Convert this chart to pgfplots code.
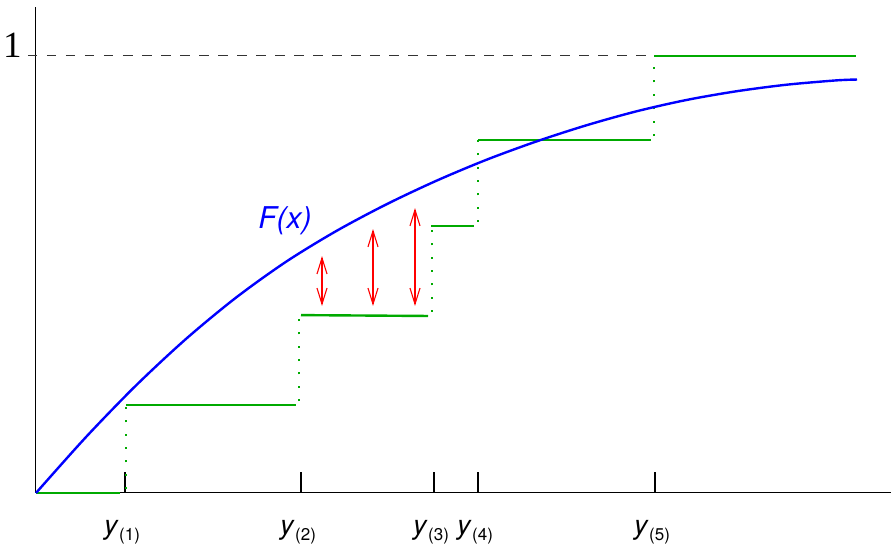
\documentclass[border=0pt]{standalone}
\usepackage{pgfplots}
\pgfplotsset{compat=1.18}
\usetikzlibrary{arrows.meta}
\usepackage{fontspec}
\setmainfont{TeX Gyre Heros}
\newfontfamily\seriffont{Liberation Serif}
\definecolor{stepgreen}{RGB}{0,170,0}
\newcommand{\ylab}[1]{{\itshape y}\hspace{0.8pt}\raisebox{-2.8pt}{\fontsize{8.5}{9}\selectfont(#1)}}
\begin{document}
\begin{tikzpicture}
\begin{axis}[
  scale only axis, width=427.5pt, height=243pt,
  xmin=0, xmax=855, ymin=0, ymax=1.112,
  axis x line*=bottom, axis y line*=left,
  axis line style={-, line width=0.5pt, black},
  clip=false,
  xtick={89,265,398,442,619},
  xticklabels={{\ylab{1}},{\ylab{2}},{\ylab{3}},{\ylab{4}},{\ylab{5}}},
  tick align=inside,
  major tick length=10.5pt,
  xtick style={line width=1pt, black},
  ytick={1}, yticklabels={1},
  ytick style={draw=none},
  xticklabel style={anchor=base, yshift=-21pt, xshift=-1.5pt, font=\fontsize{13.5}{15}\selectfont},
  yticklabel style={anchor=base east, inner sep=0pt, xshift=-7pt, yshift=-1pt, font=\seriffont\fontsize{18.5}{20}\selectfont},
]
% dashed reference line at 1
\addplot[black!80, line width=0.5pt, dash pattern=on 4.75pt off 4.75pt] coordinates {(-8,1) (618,1)};
% empirical cdf steps
\addplot[stepgreen, line width=1.2pt] coordinates {(0,0) (84,0)};
\addplot[stepgreen, line width=1.2pt] coordinates {(90,0.201) (260,0.201)};
\addplot[stepgreen, line width=1.2pt] coordinates {(265,0.407) (392,0.405)};
\addplot[stepgreen, line width=1.2pt] coordinates {(395,0.611) (438,0.611)};
\addplot[stepgreen, line width=1.2pt] coordinates {(442,0.808) (615,0.808)};
\addplot[stepgreen, line width=1.2pt] coordinates {(618,1.0) (820,1.0)};
% dotted jumps
\addplot[stepgreen, line width=1pt, dash pattern=on 1pt off 5.67pt, dash phase=4.67pt] coordinates {(90,0) (90,0.201)};
\addplot[stepgreen, line width=1pt, dash pattern=on 1pt off 5.67pt, dash phase=4.67pt] coordinates {(263,0.201) (263,0.407)};
\addplot[stepgreen, line width=1pt, dash pattern=on 1pt off 5.67pt, dash phase=4.67pt] coordinates {(396,0.405) (396,0.611)};
\addplot[stepgreen, line width=1pt, dash pattern=on 1pt off 5.67pt, dash phase=4.67pt] coordinates {(442,0.611) (442,0.808)};
\addplot[stepgreen, line width=1pt, dash pattern=on 1pt off 5.67pt, dash phase=4.67pt] coordinates {(618,0.808) (618,1.0)};
% true cdf
\addplot[blue, line width=1.2pt, smooth] coordinates {
 (0,0) (50,0.128) (100,0.246) (150,0.3525) (200,0.447) (250,0.529) (300,0.599)
 (350,0.660) (400,0.714) (450,0.762) (500,0.804) (550,0.841) (600,0.873)
 (650,0.899) (700,0.919) (750,0.934) (800,0.944) (821,0.946)};
% red arrows
\addplot[red, line width=0.55pt, arrows={Straight Barb[length=8pt,width=5pt]-Straight Barb[length=8pt,width=5pt]}] coordinates {(286,0.542) (286,0.428)};
\addplot[red, line width=0.55pt, arrows={Straight Barb[length=8pt,width=5pt]-Straight Barb[length=8pt,width=5pt]}] coordinates {(337,0.604) (337,0.428)};
\addplot[red, line width=0.55pt, arrows={Straight Barb[length=8pt,width=5pt]-Straight Barb[length=8pt,width=5pt]}] coordinates {(379,0.652) (379,0.428)};
\node[blue, anchor=base, inner sep=0pt, font=\fontsize{15}{17}\selectfont\itshape] at (axis cs:249,0.606) {F(x)};
\coordinate (bl) at (axis cs:-36,-0.128);
\coordinate (tr) at (axis cs:858,1.128);
\end{axis}
\pgfresetboundingbox
\path[use as bounding box] (bl) rectangle (tr);
\end{tikzpicture}
\end{document}
